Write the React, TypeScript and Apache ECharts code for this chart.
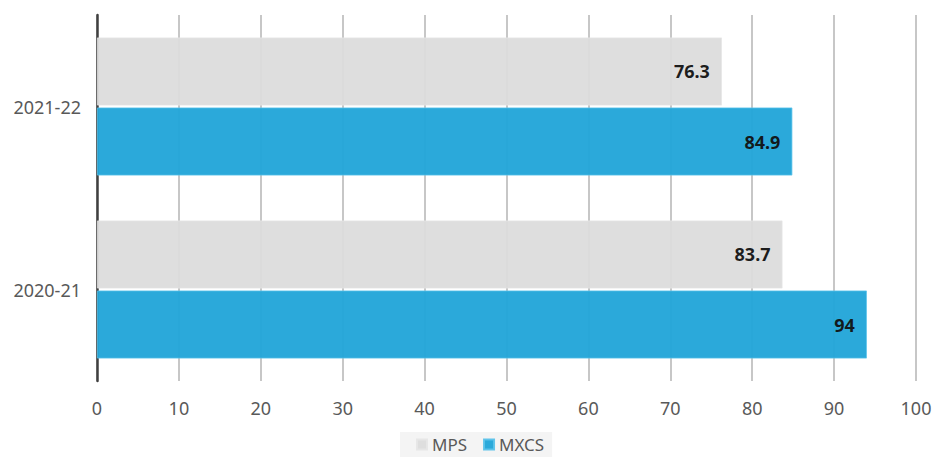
import React, { useEffect, useRef } from "react";
import * as echarts from "echarts";

const categories = ["2020-21", "2021-22"];
const mpsValues = [83.7, 76.3];
const mxcsValues = [94, 84.9];
const xTicks = { min: 0, max: 100, interval: 10 };

export default function App() {
  const ref = useRef<HTMLDivElement>(null);
  useEffect(() => {
    const chart = echarts.init(ref.current!, null, { renderer: "svg" });
    const font = "'Noto Sans', 'Open Sans', sans-serif";
    const label = {
      show: true,
      position: "insideRight",
      distance: 12,
      color: "#111",
      fontWeight: "bold",
      fontSize: 18,
      fontFamily: font,
    };
    chart.setOption({
      animation: false,
      textStyle: { fontFamily: font },
      grid: { left: 97, right: 19, top: 15, bottom: 77, containLabel: false },
      legend: {
        data: ["MPS", "MXCS"],
        top: 432,
        left: 400,
        backgroundColor: "#f4f4f4",
        padding: [4, 8, 4, 16],
        itemWidth: 10,
        itemHeight: 10,
        itemGap: 16,
        icon: "rect",
        textStyle: { color: "#595959", fontSize: 17, fontFamily: font },
      },
      xAxis: {
        type: "value",
        min: xTicks.min,
        max: xTicks.max,
        interval: xTicks.interval,
        axisLine: { show: false },
        axisTick: { show: false },
        axisLabel: { color: "#595959", fontSize: 18, margin: 18, fontFamily: font },
        splitLine: { show: true, lineStyle: { color: "#b5b5b5", width: 1.5 } },
      },
      yAxis: {
        type: "category",
        data: categories,
        axisLine: { show: true, lineStyle: { color: "#404040", width: 2.5 } },
        axisTick: { show: false },
        axisLabel: { color: "#595959", fontSize: 18, margin: 16, fontFamily: font },
      },
      series: [
        {
          name: "MPS",
          type: "bar",
          data: mpsValues,
          barWidth: 68,
          barGap: "3%",
          itemStyle: { color: "#dcdcdc", opacity: 0.95, borderColor: "#e6e6e6", borderWidth: 0.8 },
          label,
        },
        {
          name: "MXCS",
          type: "bar",
          data: mxcsValues,
          barWidth: 68,
          barGap: "3%",
          itemStyle: { color: "#22a6d9", opacity: 0.96, borderColor: "#5cc3ea", borderWidth: 0.8 },
          label,
        },
      ],
    });
    return () => chart.dispose();
  }, []);
  return <div ref={ref} style={{ width: 935, height: 458, position: "absolute", left: 0, top: 0 }} />;
}
